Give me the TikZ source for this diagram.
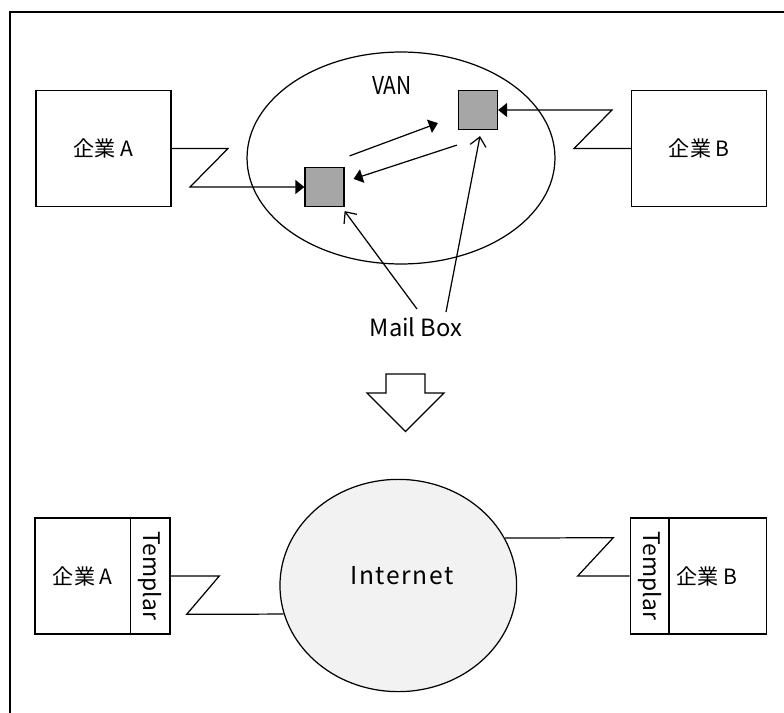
\documentclass[tikz,border=0pt]{standalone}
\usepackage{fontspec}
\setmainfont{Noto Sans CJK JP}
\usepackage{graphicx}
\usepackage{xcolor}
\usetikzlibrary{arrows.meta,positioning,calc,shapes.geometric}
\definecolor{boxgray}{HTML}{A6A6A6}
\definecolor{netgray}{HTML}{F2F2F2}

\begin{document}
\begin{tikzpicture}[x=0.02cm,y=-0.02cm,line width=0.7pt,
  corp/.style={draw,minimum width=2.7cm,minimum height=2.32cm,font=\fontsize{12}{14}\selectfont},
  mbox/.style={draw,fill=boxgray,minimum size=0.78cm,inner sep=0pt},
  tmpl/.style={draw,rotate=-90,minimum width=2.32cm,minimum height=0.786cm,inner sep=0pt,font=\fontsize{13}{15}\selectfont},
  link/.style={-{Triangle[length=1.8mm,width=2.8mm]}},
  pointer/.style={-{Straight Barb[length=1.8mm,width=3.2mm]}}]
  \useasboundingbox (0,0) rectangle (784,713);
  \draw[line width=1.2pt] (10,713) -- (10,12) -- (784,12);

  % VAN
  \node[corp] (corpA) at (103.5,148.5) {企業 A};
  \node[corp] (corpB) at (699.3,148.5) {企業 B};
  \node[draw,ellipse,minimum width=6.16cm,minimum height=4.24cm] (van) at (401,158) {};
  \node[font=\fontsize{14}{16}\selectfont] (vanlbl) at (392,85) {\scalebox{0.85}[1]{VAN}};
  \node[mbox] (mbA) at (324.5,187) {};
  \node[mbox] (mbB) at (478,110) {};
  \draw[link] (corpA.east) -- (228,148.5) -- (190,187) -- (mbA.west);
  \draw[link] (corpB.west) -- (574,148.5) -- (612,110) -- (mbB.east);
  \draw[link] ($(mbA.north east)+(5,-11)$) -- ($(mbB.south west)+(-20,-7)$);
  \draw[link] ($(mbB.south west)+(-1,15)$) -- ($(mbA.north east)+(9,12)$);

  \node[font=\fontsize{13.5}{15}\selectfont] (mblbl) at (416,327) {Mail Box};
  \coordinate (mpA) at (417,309);
  \coordinate (mpB) at (446,312);
  \draw[pointer] (mpA) -- ($(mbA.south east)+(0,4)$);
  \draw[pointer] (mpB) -- ($(mbB.south)+(2,6)$);

  % down arrow
  \draw (386,374) -- (425,374) -- (425,393) -- (444,393) -- (405.5,431.5)
    -- (367,393) -- (386,393) -- cycle;

  % Internet
  \node[draw,minimum width=1.914cm,minimum height=2.32cm,font=\fontsize{12}{14}\selectfont] (corpAb) at (82.85,576) {企業 A};
  \node[tmpl] (tmplA) at (150.35,576) {Templar};
  \node[draw,fill=netgray,ellipse,minimum width=4.734cm,minimum height=4.246cm] (inet) at (398.3,585.5) {};
  \node[font=\fontsize{14}{16}\selectfont] (inetlbl) at (402,576) {\addfontfeature{LetterSpace=6.5}Internet};
  \node[tmpl] (tmplB) at (650,576) {Templar};
  \node[draw,minimum width=1.954cm,minimum height=2.32cm] (corpBb) at (717.85,576) {};
  \node[font=\fontsize{12}{14}\selectfont] (corpBlbl) at (707,576) {企業 B};
  \draw (tmplA.north) -- (219.3,576) -- (186.7,614.3) -- (inet.194);
  \draw (inet.24) -- (613.3,537.7) -- (577.7,576) -- (tmplB.south);
\end{tikzpicture}
\end{document}
